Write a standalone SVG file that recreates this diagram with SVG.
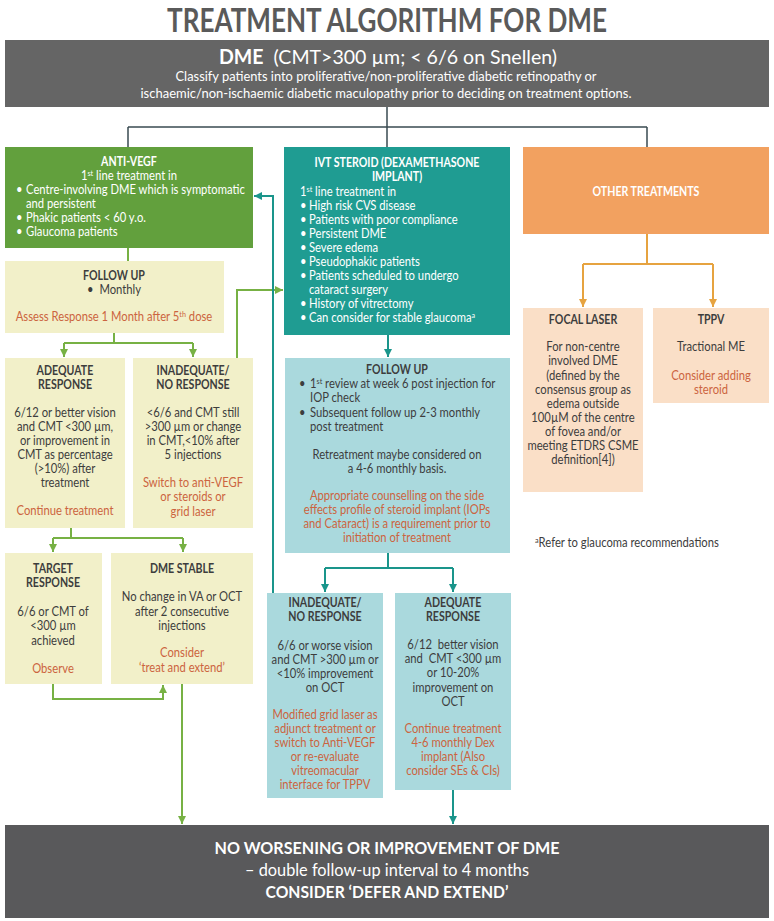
<svg xmlns="http://www.w3.org/2000/svg" width="774" height="921" viewBox="0 0 774 921">
<defs>
<style>
text{font-family:Lato,"Open Sans","Liberation Sans",sans-serif;font-size:12.5px;fill:#3d3d3d;text-anchor:middle;transform-box:fill-box;transform-origin:center;transform:scaleX(.9)}
text.b{transform:scaleX(.85)}
text.l{transform-origin:left center}
text.n{transform:none}
.w{fill:#fff}
.b{font-weight:bold}
.o{fill:#cc6440}
.l{text-anchor:start}
.sup{font-size:8px}
.lg{stroke:#77b144;stroke-width:2;fill:none}
.lt{stroke:#1a958b;stroke-width:2;fill:none}
.lo{stroke:#e6a340;stroke-width:2;fill:none}
.ld{stroke:#3a4b51;stroke-width:1.5;fill:none}
</style>
<marker id="ag" markerUnits="userSpaceOnUse" markerWidth="9" markerHeight="9" refX="8" refY="4.5" orient="auto"><path d="M0,0.5 L8,4.5 L0,8.5 z" fill="#77b144"/></marker>
<marker id="at" markerUnits="userSpaceOnUse" markerWidth="9" markerHeight="9" refX="8" refY="4.5" orient="auto"><path d="M0,0.5 L8,4.5 L0,8.5 z" fill="#1a958b"/></marker>
<marker id="ao" markerUnits="userSpaceOnUse" markerWidth="9" markerHeight="9" refX="8" refY="4.5" orient="auto"><path d="M0,0.5 L8,4.5 L0,8.5 z" fill="#e6a340"/></marker>
</defs>
<rect width="774" height="921" fill="#fff"/>
<text x="387" y="32" class="b n" style="font-size:32px;fill:#5a5a5a" textLength="440" lengthAdjust="spacingAndGlyphs">TREATMENT ALGORITHM FOR DME</text>

<g id="connectors">
<path class="ld" d="M387,107 V127 M128,127 H647 M128,127 V147 M387,127 V147 M647,127 V147"/>
<path class="lg" d="M128,248 V261"/>
<path class="lg" d="M114,333 V343 M64,343 H193"/>
<path class="lg" d="M64,343 V357" marker-end="url(#ag)"/>
<path class="lg" d="M193,343 V357" marker-end="url(#ag)"/>
<path class="lg" d="M237,358 V290 H283" marker-end="url(#ag)"/>
<path class="lt" d="M273,593 V196 H254" marker-end="url(#at)"/>
<path class="lg" d="M71,528 V538 M53,538 H183"/>
<path class="lg" d="M53,538 V552" marker-end="url(#ag)"/>
<path class="lg" d="M183,538 V552" marker-end="url(#ag)"/>
<path class="lg" d="M53,684 V699 H163 V685" marker-end="url(#ag)"/>
<path class="lg" d="M182,684 V824" marker-end="url(#ag)"/>
<path class="lt" d="M388,335 V357" marker-end="url(#at)"/>
<path class="lt" d="M388,553 V568 M325,568 H453"/>
<path class="lt" d="M325,568 V592" marker-end="url(#at)"/>
<path class="lt" d="M453,568 V592" marker-end="url(#at)"/>
<path class="lt" d="M453,790 V824" marker-end="url(#at)"/>
<path class="lo" d="M647,234 V264 M583,264 H713"/>
<path class="lo" d="M583,264 V307" marker-end="url(#ao)"/>
<path class="lo" d="M713,264 V307" marker-end="url(#ao)"/>
</g>

<g id="header">
<rect x="5" y="40" width="764" height="67" fill="#656565"/>
<text x="388" y="64" class="w n" style="font-size:20px" textLength="338" lengthAdjust="spacingAndGlyphs"><tspan class="b">DME</tspan>&#160; (CMT&gt;300 µm; &lt; 6/6 on Snellen)</text>
<text x="386" y="81" class="w n" style="font-size:13px" textLength="421" lengthAdjust="spacingAndGlyphs">Classify patients into proliferative/non-proliferative diabetic retinopathy or</text>
<text x="386" y="98" class="w n" style="font-size:13px" textLength="491" lengthAdjust="spacingAndGlyphs">ischaemic/non-ischaemic diabetic maculopathy prior to deciding on treatment options.</text>
</g>

<g id="anti-vegf">
<rect x="5" y="147" width="248" height="101" fill="#62a03d"/>
<text x="129" y="166" class="w b">ANTI-VEGF</text>
<text x="129" y="180" class="w">1<tspan class="sup" dy="-4">st</tspan><tspan dy="4"> line treatment in</tspan></text>
<text x="16" y="194" class="w l">•</text>
<text x="26" y="194" class="w l">Centre-involving DME which is symptomatic</text>
<text x="26" y="208" class="w l">and persistent</text>
<text x="16" y="222" class="w l">•</text>
<text x="26" y="222" class="w l">Phakic patients &lt; 60 y.o.</text>
<text x="16" y="236" class="w l">•</text>
<text x="26" y="236" class="w l">Glaucoma patients</text>
</g>

<g id="follow-up-vegf">
<rect x="5" y="261" width="219" height="72" fill="#f2f0c9"/>
<text x="114" y="280" class="b">FOLLOW UP</text>
<text x="114" y="294">•&#160; Monthly</text>
<text x="114" y="321" class="o">Assess Response 1 Month after 5<tspan class="sup" dy="-4">th</tspan><tspan dy="4"> dose</tspan></text>
</g>

<g id="adequate-vegf">
<rect x="5" y="358" width="120" height="170" fill="#f2f0c9"/>
<text x="65" y="375" class="b">ADEQUATE</text>
<text x="65" y="389" class="b">RESPONSE</text>
<text x="65" y="417">6/12 or better vision</text>
<text x="65" y="431">and CMT &lt;300 µm,</text>
<text x="65" y="445">or improvement in</text>
<text x="65" y="459">CMT as percentage</text>
<text x="65" y="473">(&gt;10%) after</text>
<text x="65" y="487">treatment</text>
<text x="65" y="515" class="o">Continue treatment</text>
</g>

<g id="inadequate-vegf">
<rect x="133" y="358" width="120" height="170" fill="#f2f0c9"/>
<text x="193" y="375" class="b">INADEQUATE/</text>
<text x="193" y="389" class="b">NO RESPONSE</text>
<text x="193" y="417">&lt;6/6 and CMT still</text>
<text x="193" y="431">&gt;300 µm or change</text>
<text x="193" y="445">in CMT,&lt;10% after</text>
<text x="193" y="459">5 injections</text>
<text x="193" y="487" class="o">Switch to anti-VEGF</text>
<text x="193" y="501" class="o">or steroids or</text>
<text x="193" y="516" class="o">grid laser</text>
</g>

<g id="target-response">
<rect x="5" y="553" width="97" height="131" fill="#f2f0c9"/>
<text x="53" y="573" class="b">TARGET</text>
<text x="53" y="587" class="b">RESPONSE</text>
<text x="53" y="616">6/6 or CMT of</text>
<text x="53" y="630">&lt;300 µm</text>
<text x="53" y="645">achieved</text>
<text x="53" y="673" class="o">Observe</text>
</g>

<g id="dme-stable">
<rect x="111" y="553" width="142" height="131" fill="#f2f0c9"/>
<text x="182" y="573" class="b">DME STABLE</text>
<text x="182" y="601">No change in VA or OCT</text>
<text x="182" y="616">after 2 consecutive</text>
<text x="182" y="630">injections</text>
<text x="182" y="657" class="o">Consider</text>
<text x="182" y="672" class="o">‘treat and extend’</text>
</g>

<g id="ivt-steroid">
<rect x="284" y="147" width="226" height="188" fill="#1f9c92"/>
<text x="397" y="167" class="w b">IVT STEROID (DEXAMETHASONE</text>
<text x="397" y="181" class="w b">IMPLANT)</text>
<text x="300" y="196" class="w l">1<tspan class="sup" dy="-4">st</tspan><tspan dy="4"> line treatment in</tspan></text>
<text x="300" y="210" class="w l">•</text><text x="309" y="210" class="w l">High risk CVS disease</text>
<text x="300" y="224" class="w l">•</text><text x="309" y="224" class="w l">Patients with poor compliance</text>
<text x="300" y="238" class="w l">•</text><text x="309" y="238" class="w l">Persistent DME</text>
<text x="300" y="252" class="w l">•</text><text x="309" y="252" class="w l">Severe edema</text>
<text x="300" y="266" class="w l">•</text><text x="309" y="266" class="w l">Pseudophakic patients</text>
<text x="300" y="280" class="w l">•</text><text x="309" y="280" class="w l">Patients scheduled to undergo</text>
<text x="309" y="294" class="w l">cataract surgery</text>
<text x="300" y="308" class="w l">•</text><text x="309" y="308" class="w l">History of vitrectomy</text>
<text x="300" y="322" class="w l">•</text><text x="309" y="322" class="w l">Can consider for stable glaucoma<tspan class="sup" dy="-4">a</tspan></text>
</g>

<g id="follow-up-steroid">
<rect x="285" y="358" width="225" height="195" fill="#aad9dd"/>
<text x="397" y="374" class="b">FOLLOW UP</text>
<text x="299" y="388" class="l">•</text><text x="310" y="388" class="l">1<tspan class="sup" dy="-4">st</tspan><tspan dy="4"> review at week 6 post injection for</tspan></text>
<text x="310" y="402" class="l">IOP check</text>
<text x="299" y="417" class="l">•</text><text x="310" y="417" class="l">Subsequent follow up 2-3 monthly</text>
<text x="310" y="431" class="l">post treatment</text>
<text x="397" y="459">Retreatment maybe considered on</text>
<text x="397" y="473">a 4-6 monthly basis.</text>
<text x="397" y="500" class="o">Appropriate counselling on the side</text>
<text x="397" y="514" class="o">effects profile of steroid implant (IOPs</text>
<text x="397" y="528" class="o">and Cataract) is a requirement prior to</text>
<text x="397" y="542" class="o">initiation of treatment</text>
</g>

<g id="inadequate-steroid">
<rect x="267" y="593" width="116" height="205" fill="#aad9dd"/>
<text x="325" y="607" class="b">INADEQUATE/</text>
<text x="325" y="621" class="b">NO RESPONSE</text>
<text x="325" y="650">6/6 or worse vision</text>
<text x="325" y="664">and CMT &gt;300 µm or</text>
<text x="325" y="678">&lt;10% improvement</text>
<text x="325" y="692">on OCT</text>
<text x="325" y="719" class="o">Modified grid laser as</text>
<text x="325" y="733" class="o">adjunct treatment or</text>
<text x="325" y="747" class="o">switch to Anti-VEGF</text>
<text x="325" y="761" class="o">or re-evaluate</text>
<text x="325" y="775" class="o">vitreomacular</text>
<text x="325" y="789" class="o">interface for TPPV</text>
</g>

<g id="adequate-steroid">
<rect x="395" y="593" width="116" height="197" fill="#aad9dd"/>
<text x="453" y="607" class="b">ADEQUATE</text>
<text x="453" y="621" class="b">RESPONSE</text>
<text x="453" y="649">6/12&#160; better vision</text>
<text x="453" y="663">and&#160; CMT &lt;300 µm</text>
<text x="453" y="677">or 10-20%</text>
<text x="453" y="692">improvement on</text>
<text x="453" y="706">OCT</text>
<text x="453" y="733" class="o">Continue treatment</text>
<text x="453" y="747" class="o">4-6 monthly Dex</text>
<text x="453" y="761" class="o">implant (Also</text>
<text x="453" y="775" class="o">consider SEs &amp; CIs)</text>
</g>

<g id="other-treatments">
<rect x="523" y="147" width="246" height="87" fill="#f2a160"/>
<text x="646" y="196" class="w b">OTHER TREATMENTS</text>
</g>

<g id="focal-laser">
<rect x="523" y="308" width="120" height="184" fill="#fadfc7"/>
<text x="583" y="324" class="b">FOCAL LASER</text>
<text x="583" y="351">For non-centre</text>
<text x="583" y="365">involved DME</text>
<text x="583" y="380">(defined by the</text>
<text x="583" y="394">consensus group as</text>
<text x="583" y="408">edema outside</text>
<text x="583" y="422">100µM of the centre</text>
<text x="583" y="436">of fovea and/or</text>
<text x="583" y="450">meeting ETDRS CSME</text>
<text x="583" y="464">definition[4])</text>
</g>

<g id="tppv">
<rect x="653" y="308" width="116" height="95" fill="#fadfc7"/>
<text x="711" y="324" class="b">TPPV</text>
<text x="711" y="351">Tractional ME</text>
<text x="711" y="380" class="o">Consider adding</text>
<text x="711" y="394" class="o">steroid</text>
</g>

<g id="footnote">
<text x="535" y="547" class="l"><tspan class="sup" dy="-4">a</tspan><tspan dy="4">Refer to glaucoma recommendations</tspan></text>
</g>

<g id="outcome">
<rect x="5" y="825" width="764" height="93" fill="#59595b"/>
<text x="387" y="854" class="w b n" style="font-size:17px" textLength="345" lengthAdjust="spacingAndGlyphs">NO WORSENING OR IMPROVEMENT OF DME</text>
<text x="387" y="876" class="w n" style="font-size:17px" textLength="284" lengthAdjust="spacingAndGlyphs">– double follow-up interval to 4 months</text>
<text x="387" y="898" class="w b n" style="font-size:17px" textLength="243" lengthAdjust="spacingAndGlyphs">CONSIDER ‘DEFER AND EXTEND’</text>
</g>
</svg>
